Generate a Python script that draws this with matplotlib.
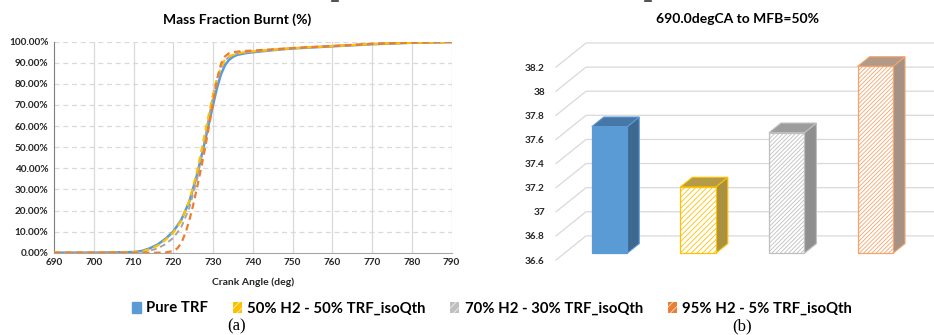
import numpy as np
import matplotlib
matplotlib.use("Agg")
import matplotlib.pyplot as plt
from matplotlib.patches import Patch, Polygon
from matplotlib.lines import Line2D

plt.rcParams['font.family'] = ['Lato', 'DejaVu Sans']
plt.rcParams['hatch.linewidth'] = 0.6

# ---------------- data ----------------
series_names = ["Pure TRF", "50% H2 - 50% TRF_isoQth", "70% H2 - 30% TRF_isoQth", "95% H2 - 5% TRF_isoQth"]

ca_pure = [690, 700, 710, 712, 714, 716, 718, 720, 722, 724, 726, 727, 728, 729, 730, 731, 732, 733, 734, 735, 736, 738, 740, 745, 750, 760, 770, 780, 790]
mfb_pure = [0, 0, 0.3, 0.8, 2.0, 3.8, 6.5, 10.0, 15.5, 24.0, 37.0, 45.0, 53.0, 61.5, 70.0, 78.0, 84.5, 88.8, 91.3, 92.8, 93.7, 94.5, 95.0, 96.0, 96.8, 97.8, 98.8, 99.5, 99.8]

ca_h50 = [690, 700, 710, 712, 714, 716, 718, 720, 722, 724, 726, 727, 728, 729, 730, 731, 732, 733, 734, 736, 738, 740, 745, 750, 760, 770, 780, 790]
mfb_h50 = [0, 0, 0.2, 0.6, 1.6, 3.3, 6.0, 9.5, 15.0, 24.5, 38.5, 47.5, 57.0, 66.0, 75.0, 82.5, 88.0, 91.5, 93.0, 94.5, 95.0, 95.4, 96.2, 96.9, 97.9, 98.9, 99.5, 99.8]

ca_h70 = [690, 700, 710, 712, 714, 716, 718, 720, 722, 724, 726, 727, 728, 729, 730, 731, 732, 733, 734, 736, 738, 740, 745, 750, 760, 770, 780, 790]
mfb_h70 = [0, 0, 0.1, 0.3, 0.9, 2.0, 4.0, 7.0, 12.0, 21.0, 35.0, 44.5, 54.5, 64.5, 74.0, 82.0, 87.5, 91.0, 92.8, 94.2, 94.8, 95.2, 96.1, 96.9, 97.9, 98.9, 99.5, 99.8]

ca_h95 = [690, 700, 710, 716, 718, 720, 721, 722, 723, 724, 725, 726, 727, 728, 729, 730, 731, 732, 733, 734, 735, 737, 740, 745, 750, 760, 770, 780, 790]
mfb_h95 = [0, 0, 0, 0, 0.1, 0.8, 2.0, 4.5, 9.0, 15.0, 22.5, 31.0, 40.0, 49.5, 60.0, 71.5, 82.0, 89.5, 93.0, 94.5, 95.0, 95.5, 95.8, 96.4, 97.0, 98.0, 99.0, 99.6, 99.9]

mfb50_values = [37.65, 37.15, 37.60, 38.15]
bar_ticks = [36.6, 36.8, 37.0, 37.2, 37.4, 37.6, 37.8, 38.0, 38.2]
bar_ticklabels = ["36.6", "36.8", "37", "37.2", "37.4", "37.6", "37.8", "38", "38.2"]

# ---------------- figure ----------------
W, H = 934, 335
fig = plt.figure(figsize=(W / 100, H / 100), dpi=100)


def px_axes(l, t, r, b):
    return fig.add_axes([l / W, 1 - b / H, (r - l) / W, (b - t) / H])


# ---- left panel: MFB curves ----
ax = px_axes(54, 41.7, 451.5, 252.7)
ax.set_xlim(690, 790)
ax.set_ylim(0, 100)
ax.set_xticks(np.arange(690, 791, 10))
ax.set_yticks(np.arange(0, 101, 10))
ax.set_yticklabels([f"{v:.2f}%" for v in np.arange(0, 101, 10)])
for x in np.arange(700, 791, 10):
    ax.axvline(x, color='#d9d9d9', lw=0.9, zorder=0)
for y in np.arange(10, 101, 10):
    ax.axhline(y, color='#d9d9d9', lw=0.9, ls=(0, (4, 3)), zorder=0)
for s in ['top', 'right']:
    ax.spines[s].set_visible(False)
ax.spines['left'].set_color('#7f7f7f')
ax.spines['bottom'].set_color('#a6a6a6')
ax.tick_params(length=0, labelsize=7.2, labelcolor='#262626', pad=4)
for lab in ax.get_xticklabels() + ax.get_yticklabels():
    lab.set_fontweight('bold')

ax.plot(ca_pure, mfb_pure, color='#5b9bd5', lw=1.8, zorder=3)
ax.plot(ca_h70, mfb_h70, color='#a5a5a5', lw=1.4, ls=(0, (3, 2)), zorder=4)
ax.plot(ca_h50, mfb_h50, color='#ffc000', lw=1.6, ls=(0, (3, 2)), zorder=5)
ax.plot(ca_h95, mfb_h95, color='#ed7d31', lw=1.6, ls=(0, (3, 2)), zorder=6)

fig.text(237 / W, 1 - 20 / H, "Mass Fraction Burnt (%)", ha='center', va='center',
         fontsize=10, fontweight='bold')
fig.text(253 / W, 1 - 282 / H, "Crank Angle (deg)", ha='center', va='center',
         fontsize=7.5, fontweight='bold', color='#262626')

# ---- right panel: pseudo 3D bars ----
bx = px_axes(556, 43, 934, 260)
x0 = -0.509
bx.set_xlim(x0, x0 + 378 / 88.6)
bx.set_ylim(36.6, 38.4)
DX, DY = 30 / 88.6, 0.2        # depth of the chart floor
d0, d1 = 0.28, 0.68            # bar depth range
w = 0.40

for v in bar_ticks:
    bx.plot([x0, x0 + DX, 10], [v, v + DY, v + DY], color='#d9d9d9', lw=0.9, zorder=0,
            clip_on=False)

bar_styles = [
    dict(face='#5b9bd5', edge='#5b9bd5', hatch=None, side='#3d6890', top='#4777a6'),
    dict(face='white', edge='#ffc000', hatch='//////', side='#a99140', top='#b59b45'),
    dict(face='white', edge='#bfbfbf', hatch='////////', side='#8f8f8f', top='#9d9d9d'),
    dict(face='white', edge='#f4a46c', hatch='////////', side='#a69284', top='#b39a88'),
]
xs = np.arange(len(mfb50_values))
for i, (v, st) in enumerate(zip(mfb50_values, bar_styles)):
    xl = xs[i] - w / 2 + d0 * DX
    xr = xl + w
    yb = 36.6 + d0 * DY
    yt = v + d0 * DY
    ddx, ddy = (d1 - d0) * DX, (d1 - d0) * DY
    bx.bar(xs[i] + d0 * DX, v - 36.6, bottom=yb, width=w, color=st['face'],
           edgecolor=st['edge'], hatch=st['hatch'], lw=0.9, zorder=3)
    side = Polygon([(xr, yb), (xr + ddx, yb + ddy), (xr + ddx, yt + ddy), (xr, yt)],
                   closed=True, facecolor=st['side'], edgecolor=st['edge'], lw=0.8, zorder=2)
    top = Polygon([(xl, yt), (xr, yt), (xr + ddx, yt + ddy), (xl + ddx, yt + ddy)],
                  closed=True, facecolor=st['top'], edgecolor=st['edge'], lw=0.8, zorder=2)
    bx.add_patch(side)
    bx.add_patch(top)

bx.set_xticks([])
bx.set_yticks(bar_ticks)
bx.set_yticklabels(bar_ticklabels)
bx.tick_params(length=0, labelsize=7.2, labelcolor='#262626', pad=8)
for lab in bx.get_yticklabels():
    lab.set_fontweight('bold')
for s in bx.spines.values():
    s.set_visible(False)

fig.text(738 / W, 1 - 19 / H, "690.0degCA to MFB=50%", ha='center', va='center',
         fontsize=10, fontweight='bold')

# ---- legend ----
handles = [
    Patch(facecolor='#5b9bd5', edgecolor='#5b9bd5'),
    Patch(facecolor='#ffc000', edgecolor='#fff2cc', hatch='////', lw=0),
    Patch(facecolor='#bfbfbf', edgecolor='#f2f2f2', hatch='////', lw=0),
    Patch(facecolor='#ed7d31', edgecolor='#fbe0cc', hatch='////', lw=0),
]
leg = fig.legend(handles, series_names, loc='center', ncol=4, frameon=False,
                 bbox_to_anchor=(492 / W, 1 - 308.5 / H), handlelength=0.6, handleheight=0.7,
                 handletextpad=0.38, columnspacing=1.65,
                 prop=dict(family=['Lato', 'DejaVu Sans'], weight='bold', size=10.7))

fig.text(237 / W, 1 / H, "(a)", ha='center', va='bottom', fontsize=12,
         family='Liberation Serif')
fig.text(742 / W, 1 / H, "(b)", ha='center', va='bottom', fontsize=12,
         family='Liberation Serif')

# cropped marks at the very top of the source image
fig.add_artist(Line2D([332 / W, 338 / W], [1 - 1 / H, 1 - 1 / H], color='#333333', lw=1.2))
fig.add_artist(Line2D([645 / W, 651 / W], [1 - 1 / H, 1 - 1 / H], color='#333333', lw=1.2))

fig.savefig("out.png", dpi=100)
